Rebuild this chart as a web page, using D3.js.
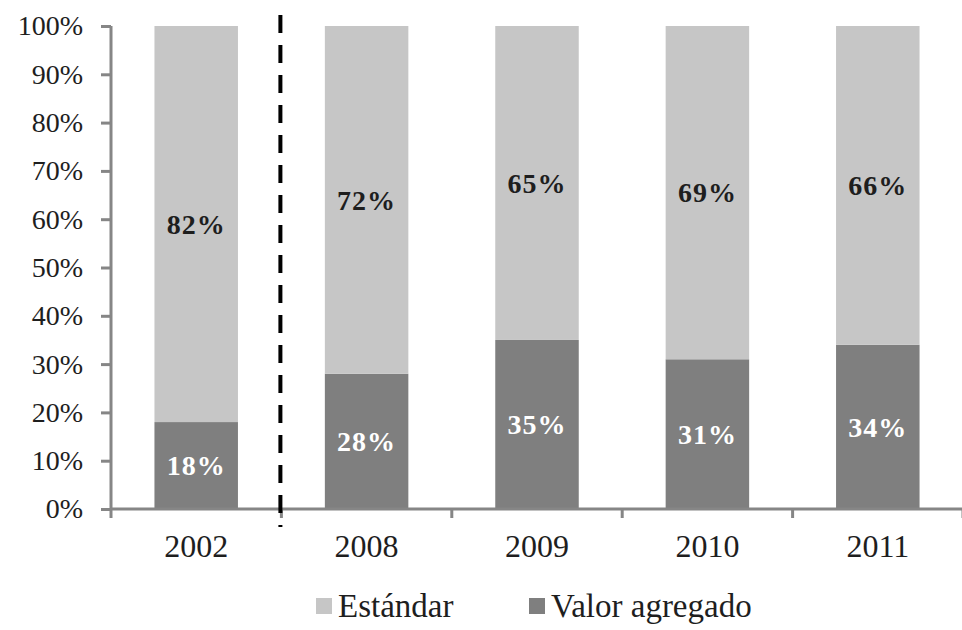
<!DOCTYPE html>
<html><head><meta charset="utf-8">
<script src="https://cdn.jsdelivr.net/npm/d3@7"></script>
<style>body{margin:0;background:#fff}svg{display:block}</style>
</head><body>
<svg id="c" width="962" height="630"></svg>
<script>
const categories = ["2002","2008","2009","2010","2011"];
const valorAgregado = [18,28,35,31,34];
const estandar = [82,72,65,69,66];
const seriesNames = ["Estándar","Valor agregado"];
const yTicks = [0,10,20,30,40,50,60,70,80,90,100];

const svg = d3.select("#c");
const FONT = '"Liberation Serif"';
const colLight = "#c6c6c6", colDark = "#7f7f7f", axisCol = "#868686", txt = "#1e1e1e";
const pad = 0.51;
const x = d3.scaleBand().domain(categories).range([111,963]).paddingInner(pad).paddingOuter(pad/2);
const y = d3.scaleLinear().domain([0,100]).range([509,26]);
const step = x.step();

// bars
const data = categories.map((c,i)=>({c, va: valorAgregado[i], es: estandar[i]}));
const g = svg.append("g");
g.selectAll("rect.va").data(data).join("rect")
  .attr("x",d=>x(d.c)).attr("width",x.bandwidth())
  .attr("y",d=>y(d.va)).attr("height",d=>y(0)-y(d.va)).attr("fill",colDark);
g.selectAll("rect.es").data(data).join("rect")
  .attr("x",d=>x(d.c)).attr("width",x.bandwidth())
  .attr("y",d=>y(d.va+d.es)).attr("height",d=>y(d.va)-y(d.va+d.es)).attr("fill",colLight);

// labels
g.selectAll("text.es").data(data).join("text")
  .attr("x",d=>x(d.c)+x.bandwidth()/2).attr("y",d=>y(d.va+d.es/2))
  .attr("dy","0.35em").attr("text-anchor","middle")
  .style("font-family",FONT).attr("font-weight","bold").attr("font-size",28)
  .attr("fill",txt).attr("letter-spacing","1px").text(d=>d.es+"%");
g.selectAll("text.va").data(data).join("text")
  .attr("x",d=>x(d.c)+x.bandwidth()/2).attr("y",d=>y(d.va/2))
  .attr("dy","0.35em").attr("text-anchor","middle")
  .style("font-family",FONT).attr("font-weight","bold").attr("font-size",28)
  .attr("fill","#ffffff").attr("letter-spacing","1px").text(d=>d.va+"%");

// y axis
const ya = svg.append("g").attr("transform","translate(111,0)")
  .call(d3.axisLeft(y).tickValues(yTicks).tickSize(10).tickPadding(18).tickFormat(d=>d+"%"));
ya.select(".domain").attr("stroke",axisCol).attr("stroke-width",3).attr("d","M0,"+(y(100))+"V"+y(0));
ya.selectAll(".tick line").attr("stroke",axisCol).attr("stroke-width",3);
ya.selectAll(".tick text").style("font-family",FONT).attr("font-size",28).attr("fill",txt);

// x axis
const xa = svg.append("g").attr("transform","translate(0,509)")
  .call(d3.axisBottom(x).tickSize(0));
xa.select(".domain").attr("stroke",axisCol).attr("stroke-width",3).attr("d","M110,0H963");
xa.selectAll(".tick text").style("font-family",FONT).attr("font-size",32).attr("fill",txt).attr("y",48).attr("dy",0);
const bounds = categories.map(c=>x(c)-step*pad/2).concat([x(categories[categories.length-1])+x.bandwidth()+step*pad/2]);
svg.append("g").selectAll("line").data(bounds).join("line")
  .attr("x1",d=>d).attr("x2",d=>d).attr("y1",509).attr("y2",518)
  .attr("stroke",axisCol).attr("stroke-width",3);

// dashed separator
const sepX = x("2008") - step*pad/2 - 1;
svg.append("line").attr("x1",sepX).attr("x2",sepX).attr("y1",15).attr("y2",527)
  .attr("stroke","#000").attr("stroke-width",4).attr("stroke-dasharray","18,12");

// legend
const leg = svg.append("g");
const legX = [316,529];
const legCols = [colLight,colDark];
seriesNames.forEach((n,i)=>{
  leg.append("rect").attr("x",legX[i]).attr("y",598).attr("width",16).attr("height",16).attr("fill",legCols[i]);
  leg.append("text").attr("x",legX[i]+22).attr("y",617).style("font-family",FONT).attr("font-size",33)
    .attr("fill",txt).text(n);
});
</script>
</body></html>
